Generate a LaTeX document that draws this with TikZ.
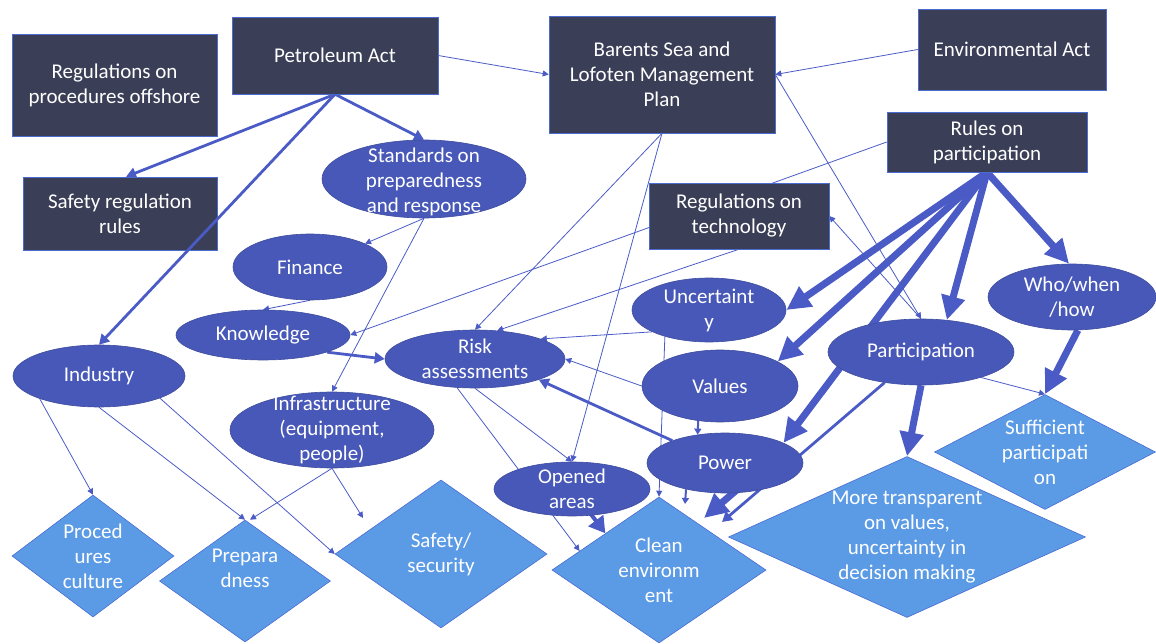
\documentclass[tikz,border=0pt]{standalone}
\usepackage{fontspec}
\setmainfont{Carlito}
\usetikzlibrary{shapes.geometric,arrows.meta,calc}
\definecolor{boxfill}{HTML}{3A3F57}
\definecolor{ellfill}{HTML}{4858B8}
\definecolor{ellrim}{HTML}{3E4C9E}
\definecolor{diafill}{HTML}{5B9BE6}
\definecolor{linkcol}{HTML}{4A5BC6}
\definecolor{rimcol}{HTML}{4A6BD0}
\pgfdeclarelayer{links}
\pgfdeclarelayer{over}
\pgfsetlayers{links,main,over}
\begin{document}
\begin{tikzpicture}[x=1pt,y=-1pt,
  every node/.style={font=\fontsize{21}{25}\selectfont, text=white, align=center, inner sep=0pt},
  lawbox/.style={rectangle, fill=boxfill, draw=rimcol, line width=0.5pt},
  factor/.style={ellipse, fill=ellfill, draw=ellrim, line width=0.6pt},
  goal/.style={diamond, fill=diafill, draw=rimcol, line width=0.6pt},
  thinlink/.style={draw=linkcol, line width=0.8pt, -{Triangle[length=6pt,width=6pt]}},
  midlink/.style={draw=linkcol, line width=2.8pt, -{Triangle[length=10pt,width=11pt]}},
  stublink/.style={draw=linkcol, line width=2pt, -{Triangle[length=6pt,width=7pt]}},
  heavylink/.style={draw=linkcol, line width=4pt, -{Triangle[length=16pt,width=18pt]}},
  thicklink/.style={draw=linkcol, line width=7pt, -{Triangle[length=24pt,width=23pt]}},
]
\useasboundingbox (0,0) rectangle (1156,644);

% legal and planning instruments
\node[lawbox, minimum width=205pt, minimum height=102pt] (rpo) at (114.5,85) {Regulations on\\procedures offshore};
\node[lawbox, minimum width=206pt, minimum height=77pt] (pa) at (335,55.5) {Petroleum Act};
\node[lawbox, minimum width=194pt, minimum height=73pt] (srr) at (120,213.5) {Safety regulation\\rules};
\node[lawbox, minimum width=226pt, minimum height=117pt] (bs) at (662,74.5) {Barents Sea and\\Lofoten Management\\Plan};
\node[lawbox, minimum width=188pt, minimum height=81pt] (ea) at (1012,49.5) {Environmental Act};
\node[lawbox, minimum width=200pt, minimum height=60pt] (rop) at (987,142) {Rules on\\participation};
\node[lawbox, minimum width=180pt, minimum height=66pt] (rot) at (739,216) {Regulations on\\technology};

% intermediate factors
\node[factor, minimum width=204pt, minimum height=78pt, label={[yshift=-3pt]center:{Standards on\\preparedness\\and response}}] (std) at (424,179) {};
\node[factor, minimum width=154pt, minimum height=66pt, label={center:Finance}] (fin) at (310,267) {};
\node[factor, minimum width=174pt, minimum height=50pt, label={center:Knowledge}] (kno) at (263,335) {};
\node[factor, minimum width=172pt, minimum height=62pt, label={center:Industry}] (ind) at (99,376) {};
\node[factor, minimum width=204pt, minimum height=76pt, label={center:{Infrastructure\\(equipment,\\people)}}] (inf) at (332,430) {};
\node[factor, minimum width=180pt, minimum height=58pt, label={center:{Risk\\assessments}}] (risk) at (475,359) {};
\node[factor, minimum width=154pt, minimum height=64pt, label={center:{Uncertaint\\y}}] (unc) at (709,310) {};
\node[factor, minimum width=156pt, minimum height=72pt, label={center:Values}] (val) at (720,386) {};
\node[factor, minimum width=156pt, minimum height=60pt, label={center:Power}] (pow) at (725,463) {};
\node[factor, minimum width=156pt, minimum height=54pt, label={center:{Opened\\areas}}] (opn) at (572,489) {};
\node[factor, minimum width=186pt, minimum height=66pt, label={center:Participation}] (par) at (921,352) {};
\node[factor, minimum width=168pt, minimum height=66pt, label={center:{Who/when\\/how}}] (who) at (1072,297) {};

% outcomes
\node[goal, minimum width=162pt, minimum height=122pt, label={center:{Proced\\ures\\culture}}] (proc) at (93,556) {};
\node[goal, minimum width=171pt, minimum height=122pt, label={[yshift=13pt]center:{Prepara\\dness}}] (prep) at (245,581) {};
\node[goal, minimum width=212pt, minimum height=148pt, label={center:{Safety/\\security}}] (safe) at (441,554) {};
\node[goal, minimum width=214pt, minimum height=146pt, label={center:{Clean\\environm\\ent}}] (clean) at (659,570) {};
\node[goal, minimum width=357pt, minimum height=161pt, label={center:{More transparent\\on values,\\uncertainty in\\decision making}}] (trans) at (907,537) {};
\node[goal, minimum width=221pt, minimum height=115pt, label={center:{Sufficient\\participati\\on}}] (suff) at (1045,452) {};

% free arrow ends above the clean-environment diamond
\coordinate (pwtip) at (685,504);
\coordinate (bigtip) at (704,518);
\coordinate (partip) at (722,522);
\coordinate (inftip) at (363,518);

\begin{pgfonlayer}{links}
\draw[thinlink] (pa.east) -- (bs.west);
\draw[thinlink] (ea.west) -- (bs.east);
\draw[thinlink] (bs.east) -- (par.north);
\draw[thinlink] (par.north) -- (rot.east);
\draw[midlink] (pa.south) -- ($(srr.north)+(6,0)$);
\draw[midlink] (pa.south) -- (std.north);
\draw[thinlink] (std.south) -- (fin.23);
\draw[thinlink] (std.south) -- (inf.north);
\draw[thinlink] (fin.south) -- (kno.north);
\draw[midlink] (kno.-15) -- (risk.west);
\draw[thinlink] (rop.west) -- (kno.east);
\draw[thinlink] (rot.south) -- (risk.52);
\draw[thinlink] (bs.south) -- (risk.north);
\draw[thinlink] (bs.south) -- (opn.north);
\draw[thinlink] (unc.201) -- (risk.17);
\draw[thinlink] (val.west) -- (risk.east);
\draw[midlink] (pow.157) -- (risk.-18);
\draw[thinlink] (unc.211) -- (clean.north);
\draw[stublink] (val.-122) -- (pow.134);
\draw[stublink] (pow.-146) -- (pwtip);
\draw[thicklink] ($(pow.center)+(35,7)$) -- (bigtip);
\draw[midlink] (par.-140) -- (partip);
\draw[thicklink] (rop.south) -- (unc.east);
\draw[thicklink] (rop.south) -- (val.23);
\draw[thicklink] (rop.south) -- (pow.19);
\draw[thicklink] (rop.south) -- (par.51);
\draw[thicklink] (rop.south) -- (who.95);
\draw[thicklink] (who.-80) -- (suff.north);
\draw[thinlink] (par.-23) -- (suff.north);
\draw[thicklink] (par.south) -- (trans.north);
\draw[heavylink] (opn.center) -- ($(clean.west)!0.5!(clean.north)$);
\draw[thinlink] (risk.south) -- (opn.north);
\draw[thinlink] (risk.-122) -- ($(clean.west)!0.26!(clean.north)$);
\draw[thinlink] (ind.201) -- (proc.north);
\draw[thinlink] (ind.south) -- (prep.north);
\draw[thinlink] (ind.-20) -- (safe.west);
\draw[thinlink] (inf.south) -- ($(prep.north)+(5,0)$);
\draw[thinlink] (inf.south) -- (inftip);
\end{pgfonlayer}

\begin{pgfonlayer}{over}
\draw[midlink] (pa.south) -- (ind.north);
\end{pgfonlayer}
\end{tikzpicture}
\end{document}
